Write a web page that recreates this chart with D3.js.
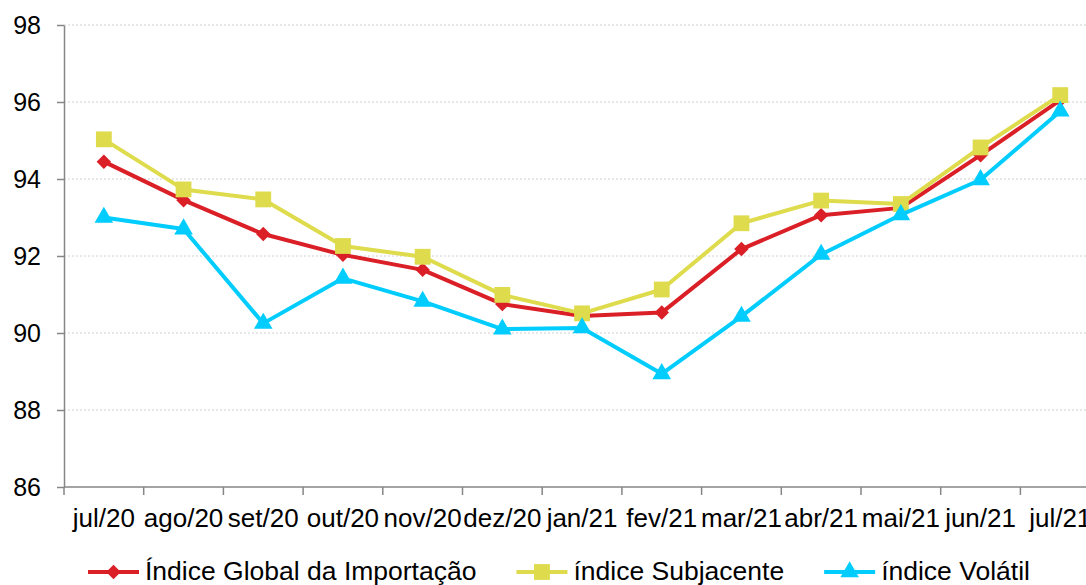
<!DOCTYPE html>
<html>
<head>
<meta charset="utf-8">
<script src="https://cdn.jsdelivr.net/npm/d3@7"></script>
<style>
	body { margin: 0; background: #fff; }
	svg { display: block; font-family: "Liberation Sans", Arial, sans-serif; }
</style>
</head>
<body>
<div id="chart"></div>
<script>
// index series, jul/20 - jul/21

var months = ['jul/20', 'ago/20', 'set/20', 'out/20', 'nov/20', 'dez/20', 'jan/21',
	'fev/21', 'mar/21', 'abr/21', 'mai/21', 'jun/21', 'jul/21'];

var global = [94.45, 93.45, 92.57, 92.03, 91.64, 90.75, 90.44, 90.53, 92.18, 93.06, 93.25, 94.62, 96.05];
var subjacente = [95.03, 93.73, 93.47, 92.26, 91.98, 90.99, 90.51, 91.13, 92.85, 93.44, 93.35, 94.82, 96.18];
var volatil = [93.0, 92.7, 90.25, 91.42, 90.82, 90.1, 90.13, 88.94, 90.43, 92.04, 93.07, 93.98, 95.76];

var yTicks = [86, 88, 90, 92, 94, 96, 98];

// wide diamond (square turned 45deg), like the excel marker
var wideDiamond = {
	draw: function (ctx, size) {
		var r = Math.sqrt(size / 2);
		ctx.moveTo(0, -r);
		ctx.lineTo(r, 0);
		ctx.lineTo(0, r);
		ctx.lineTo(-r, 0);
		ctx.closePath();
	}
};

var series = [
	{name: 'Índice Global da Importação', values: global, color: '#da1f27', symbol: wideDiamond, size: 105},
	{name: 'índice Subjacente', values: subjacente, color: '#dedb4c', symbol: d3.symbolSquare, size: 250},
	{name: 'índice Volátil', values: volatil, color: '#00ccfd', symbol: d3.symbolTriangle, size: 150}
];

var W = 1086, H = 585,
	plotLeft = 64, plotTop = 25, plotBottom = 487,
	step = 79.7;

var svg = d3.select('#chart').append('svg')
	.attr('width', W).attr('height', H);

var x = d3.scaleBand().domain(months).range([plotLeft, plotLeft + step * months.length]);
var y = d3.scaleLinear().domain([86, 98]).range([plotBottom, plotTop]);

// gridlines
svg.append('g').selectAll('line')
	.data(yTicks.slice(1)).enter().append('line')
	.attr('x1', plotLeft).attr('x2', W)
	.attr('y1', function (d) { return y(d); }).attr('y2', function (d) { return y(d); })
	.attr('stroke', '#d0d0d0').attr('stroke-width', 1).attr('stroke-dasharray', '2,2');

// y axis
var yAxis = svg.append('g').attr('transform', 'translate(' + plotLeft + ',0)')
	.call(d3.axisLeft(y).tickValues(yTicks).tickSize(7).tickPadding(16).tickSizeOuter(0));
yAxis.select('.domain').attr('stroke', '#868686').attr('stroke-width', 1.5);
yAxis.selectAll('.tick line').attr('stroke', '#868686').attr('stroke-width', 1.5);
yAxis.selectAll('.tick text').attr('font-size', '25px').attr('fill', '#000')
	.attr('font-family', '"Liberation Sans", Arial, sans-serif');

// x axis
var xAxis = svg.append('g').attr('transform', 'translate(0,' + plotBottom + ')');
xAxis.append('line').attr('x1', plotLeft).attr('x2', W)
	.attr('stroke', '#868686').attr('stroke-width', 1.5);
xAxis.selectAll('line.tk').data(months).enter().append('line').attr('class', 'tk')
	.attr('x1', function (d) { return x(d); }).attr('x2', function (d) { return x(d); })
	.attr('y1', 0).attr('y2', 8)
	.attr('stroke', '#868686').attr('stroke-width', 1.5);
xAxis.selectAll('text').data(months).enter().append('text')
	.attr('x', function (d) { return x(d) + x.bandwidth() / 2; })
	.attr('y', 40)
	.attr('text-anchor', 'middle')
	.attr('font-size', '26px')
	.text(function (d) { return d; });

// lines + markers
var line = d3.line()
	.x(function (d, i) { return x(months[i]) + x.bandwidth() / 2; })
	.y(function (d) { return y(d); });

series.forEach(function (s) {
	var g = svg.append('g');
	g.append('path').datum(s.values)
		.attr('d', line)
		.attr('fill', 'none').attr('stroke', s.color).attr('stroke-width', 4)
		.attr('stroke-linejoin', 'round');
	g.selectAll('path.pt').data(s.values).enter().append('path').attr('class', 'pt')
		.attr('d', d3.symbol().type(s.symbol).size(s.size))
		.attr('transform', function (d, i) {
			return 'translate(' + (x(months[i]) + x.bandwidth() / 2) + ',' + y(d) + ')';
		})
		.attr('fill', s.color);
});

// legend
var lx = 88, ly = 572;
series.forEach(function (s) {
	var g = svg.append('g').attr('transform', 'translate(' + lx + ',' + ly + ')');
	g.append('line').attr('x1', 0).attr('x2', 51)
		.attr('stroke', s.color).attr('stroke-width', 4);
	g.append('path').attr('d', d3.symbol().type(s.symbol).size(s.size))
		.attr('transform', 'translate(25.5,0)').attr('fill', s.color);
	var t = g.append('text').attr('x', 57).attr('y', 8)
		.attr('font-size', '26.5px').text(s.name);
	lx += 57 + t.node().getComputedTextLength() + 40;
});
</script>
</body>
</html>
